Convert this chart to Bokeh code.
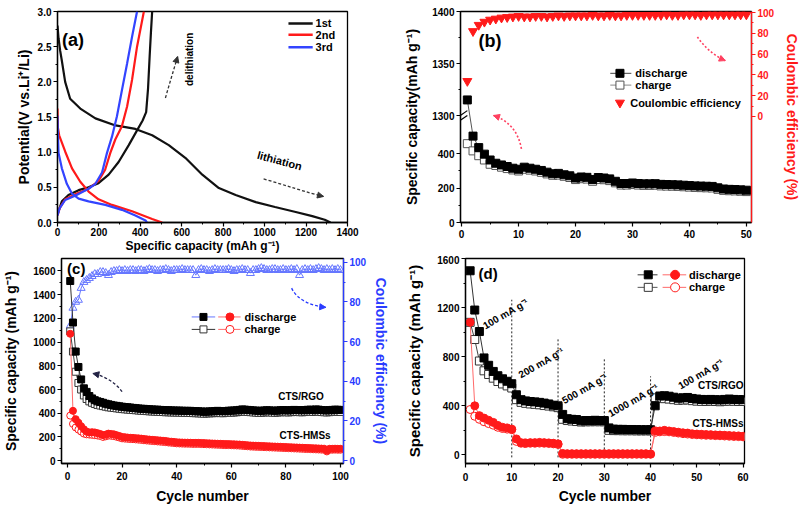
from bokeh.plotting import figure
from bokeh.layouts import column, row
from bokeh.models import Range1d, LinearAxis, FixedTicker, Label, Arrow, NormalHead
from bokeh.embed import file_html
from bokeh.resources import INLINE

FONT = "Liberation Sans"
RED = "#ff1a1a"
PINK = "#ff6a6a"
BLUE_A = "#3344ff"
BLUE_C = "#2a3cff"
BLUE_T = "#6677ff"

# ---------------- (a) charge/discharge profiles ----------------
a_legend = ["1st", "2nd", "3rd"]
a_colors = ["#111111", RED, BLUE_A]
d1_x = [0, 5, 13, 21, 37, 61, 110, 183, 280, 376, 457, 537, 617, 699, 779, 860, 957, 1050, 1150, 1230, 1290, 1318]
d1_y = [2.80, 2.62, 2.44, 2.30, 2.00, 1.76, 1.62, 1.48, 1.38, 1.33, 1.24, 1.10, 0.92, 0.68, 0.49, 0.39, 0.29, 0.22, 0.15, 0.09, 0.04, 0.0]
c1_x = [0, 5, 21, 53, 102, 150, 198, 247, 295, 344, 384, 411, 428, 437, 445, 451, 457]
c1_y = [0.12, 0.16, 0.30, 0.39, 0.46, 0.50, 0.56, 0.68, 0.86, 1.10, 1.31, 1.45, 1.57, 1.90, 2.37, 2.70, 3.0]
d2_x = [0, 2, 8, 37, 70, 110, 150, 198, 263, 360, 457, 505]
d2_y = [1.62, 1.35, 1.24, 1.01, 0.77, 0.58, 0.44, 0.33, 0.25, 0.16, 0.05, 0.0]
c2_x = [0, 10, 37, 85, 150, 198, 230, 255, 279, 311, 336, 360, 384, 417]
c2_y = [0.10, 0.20, 0.33, 0.40, 0.48, 0.59, 0.75, 0.99, 1.18, 1.37, 1.65, 2.03, 2.50, 3.0]
d3_x = [0, 2, 5, 21, 45, 70, 102, 150, 231, 311, 376, 425, 432]
d3_y = [1.52, 1.25, 0.99, 0.77, 0.55, 0.41, 0.34, 0.30, 0.25, 0.18, 0.10, 0.03, 0.0]
c3_x = [0, 10, 37, 85, 150, 183, 215, 239, 263, 287, 311, 336, 360, 384]
c3_y = [0.10, 0.20, 0.32, 0.38, 0.48, 0.55, 0.71, 0.99, 1.22, 1.51, 1.88, 2.26, 2.64, 3.0]

# ---------------- (b) cycling ----------------
b_cycles = list(range(1, 51))
b_discharge = [1315, 503, 436, 398, 364, 345, 335, 326, 316, 310, 322, 316, 310, 303, 293, 284, 286, 278, 272, 259,
               265, 263, 250, 262, 259, 254, 240, 227, 227, 230, 227, 225, 225, 226, 222, 221, 220, 219, 217, 215,
               213, 212, 211, 210, 202, 195, 193, 192, 190, 188]
b_charge = [459, 417, 389, 364, 339, 332, 322, 314, 306, 300, 310, 305, 300, 292, 283, 275, 276, 269, 262, 250,
            255, 253, 240, 251, 249, 244, 231, 218, 218, 221, 218, 216, 216, 217, 213, 212, 211, 210, 208, 206,
            204, 203, 202, 201, 193, 187, 185, 184, 182, 180]
b_ce = [34, 82, 88, 91, 93, 94, 95, 95.5, 96, 96.5, 96, 96, 96.5, 96.5, 96, 96.5, 97, 96.5, 97, 97,
        97, 97, 97.5, 97, 97, 97.5, 97, 97, 97.5, 97.5, 97.5, 97.5, 97.5, 97.5, 97.5, 98, 97.5, 97.5, 98, 98,
        98, 97.5, 98, 98, 98, 98, 98, 98, 98, 98]
b_ytick_values = [0, 200, 400, 1300, 1350, 1400]

# ---------------- (c) long cycling ----------------
c_cycles = list(range(1, 101))
c_rgo_dis = [1515, 1165, 920, 790, 685, 610, 580, 545, 525, 510, 500, 495, 488, 480, 475, 470, 465, 462, 458, 455,
             452, 450, 448, 445, 443, 440, 438, 437, 435, 433, 432, 430, 430, 428, 427, 425, 425, 424, 423, 422,
             422, 421, 420, 420, 420, 418, 417, 416, 415, 412, 414, 415, 416, 418, 420, 418, 417, 419, 421, 422,
             423, 425, 428, 432, 430, 428, 426, 424, 422, 420, 421, 423, 425, 424, 422, 421, 423, 425, 426, 425,
             424, 426, 428, 427, 426, 425, 427, 429, 430, 428, 432, 430, 427, 425, 424, 426, 428, 430, 429, 428]
c_rgo_cha = [1090, 920, 750, 655, 600, 550, 520, 500, 488, 478, 470, 465, 460, 455, 450, 447, 444, 441, 438, 435,
             433, 431, 429, 427, 425, 423, 421, 420, 418, 416, 415, 413, 412, 411, 410, 408, 408, 407, 406, 405,
             405, 404, 403, 403, 402, 401, 400, 399, 398, 396, 398, 399, 400, 401, 403, 401, 400, 402, 404, 405,
             406, 408, 411, 414, 413, 411, 409, 407, 405, 403, 404, 406, 408, 407, 405, 404, 406, 408, 409, 408,
             407, 409, 411, 410, 409, 408, 410, 412, 413, 411, 414, 413, 410, 408, 407, 409, 411, 413, 412, 411]
c_hms_dis = [1070, 420, 350, 320, 290, 265, 245, 238, 240, 238, 232, 225, 215, 220, 228, 225, 222, 215, 208, 200,
             198, 195, 193, 192, 190, 188, 186, 183, 180, 178, 176, 174, 172, 170, 168, 166, 162, 160, 158, 155,
             154, 153, 152, 152, 151, 150, 150, 150, 149, 148, 147, 146, 145, 144, 143, 142, 141, 140, 140, 139,
             138, 137, 136, 134, 132, 130, 128, 127, 126, 125, 124, 123, 122, 121, 120, 119, 118, 117, 116, 115,
             114, 113, 112, 111, 110, 109, 108, 107, 106, 105, 104, 103, 102, 101, 85, 100, 100, 101, 100, 100]
c_hms_cha = [380, 310, 280, 262, 245, 228, 222, 220, 218, 215, 212, 208, 200, 205, 212, 210, 207, 201, 195, 188,
             186, 184, 182, 181, 179, 177, 175, 172, 170, 168, 166, 164, 162, 160, 158, 156, 153, 151, 149, 146,
             145, 144, 143, 143, 142, 141, 141, 141, 140, 139, 138, 137, 136, 135, 134, 133, 132, 131, 131, 130,
             129, 128, 127, 125, 123, 121, 119, 118, 117, 116, 115, 114, 113, 112, 111, 110, 109, 108, 107, 106,
             105, 104, 103, 102, 101, 100, 99, 98, 97, 96, 95, 94, 93, 92, 78, 92, 92, 93, 92, 92]
c_ce = [68, 77, 80, 81, 87, 90, 91, 92, 93, 94, 94, 95, 95, 94.5, 93.5, 95, 95.5, 95.5, 96, 95.5,
        96, 95.5, 96, 96, 95.5, 96, 96, 95.5, 96, 96.5, 96, 96, 95.5, 96, 96, 96.5, 96, 95.5, 96, 96,
        96, 96.5, 96, 96, 96, 96, 93.5, 96, 96.5, 96, 96, 95.5, 96, 96.5, 96, 96, 96, 96, 96.5, 96,
        95.5, 96, 96, 96.5, 96, 96, 94.5, 96, 96, 96.5, 97, 96.5, 96, 96, 96.5, 96.5, 96, 96, 96.5, 96,
        96, 96.5, 96, 96.5, 93.5, 96, 96.5, 96, 96.5, 96, 96.5, 97, 96.5, 96, 96.5, 96, 96.5, 96, 96.5, 96]

# ---------------- (d) rate capability ----------------
d_cycles = list(range(1, 61))
d_rgo_dis = [1500, 1180, 1005, 790, 730, 680, 645, 620, 600, 580, 490, 450, 440, 435, 432, 428, 422, 415, 405, 400,
             330, 295, 290, 288, 278, 280, 280, 282, 280, 280, 220, 210, 208, 208, 207, 207, 206, 205, 205, 205,
             400, 480, 482, 478, 470, 462, 465, 468, 460, 455, 452, 450, 452, 450, 448, 452, 455, 452, 450, 450]
d_rgo_cha = [1080, 940, 765, 685, 655, 625, 598, 578, 562, 545, 450, 428, 420, 415, 412, 408, 402, 398, 392, 385,
             290, 280, 276, 272, 268, 270, 270, 271, 270, 270, 200, 198, 198, 197, 197, 197, 196, 196, 196, 196,
             465, 462, 458, 455, 450, 445, 447, 448, 442, 438, 436, 435, 437, 435, 433, 436, 438, 437, 435, 435]
d_hms_dis = [1080, 400, 320, 300, 282, 265, 240, 225, 220, 210, 130, 100, 98, 100, 100, 102, 100, 98, 95, 90,
             12, 10, 10, 10, 10, 10, 10, 10, 10, 10, 10, 10, 10, 10, 10, 10, 10, 10, 10, 8,
             195, 195, 200, 195, 190, 185, 180, 178, 172, 170, 168, 166, 165, 163, 162, 160, 158, 156, 155, 152]
d_hms_cha = [370, 315, 290, 270, 255, 242, 225, 215, 210, 205, 110, 95, 93, 95, 95, 96, 95, 93, 90, 85,
             5, 5, 5, 5, 5, 5, 5, 5, 5, 5, 5, 5, 5, 5, 5, 5, 5, 5, 5, 5,
             185, 188, 190, 188, 183, 178, 173, 170, 166, 164, 162, 160, 159, 157, 156, 154, 152, 150, 149, 147]
d_rate_x = [10, 20, 30, 40]
d_rate_top = [1264, 952, 784, 640]
d_rate_labels = ["100 mA g\u207b\u00b9", "200 mA g\u207b\u00b9", "500 mA g\u207b\u00b9", "1000 mA g\u207b\u00b9", "100 mA g\u207b\u00b9"]


def base_fig(w, h, xr, yr, left, right, top, bottom):
    p = figure(width=w, height=h, x_range=Range1d(*xr), y_range=Range1d(*yr),
               output_backend="svg", toolbar_location=None,
               min_border_left=left, min_border_right=right,
               min_border_top=top, min_border_bottom=bottom)
    p.xgrid.visible = False
    p.ygrid.visible = False
    p.outline_line_color = "black"
    p.outline_line_width = 1.3
    p.outline_line_alpha = 1.0
    return p


def style_axis(ax, ticks, minor, color="black", label=None, label_size="13px",
               tick_size="10px", label_standoff=4, overrides=None, tick_standoff=2):
    ax.ticker = FixedTicker(ticks=ticks, minor_ticks=minor)
    ax.axis_line_color = color
    ax.axis_line_width = 1.3
    ax.major_tick_line_color = color
    ax.minor_tick_line_color = color
    ax.major_tick_line_width = 1.2
    ax.minor_tick_line_width = 1.0
    ax.major_tick_in = 0
    ax.major_tick_out = 4
    ax.minor_tick_in = 0
    ax.minor_tick_out = 2
    ax.major_label_text_font = FONT
    ax.major_label_text_font_style = "bold"
    ax.major_label_text_font_size = tick_size
    ax.major_label_text_color = color
    ax.major_label_standoff = tick_standoff
    if overrides:
        ax.major_label_overrides = overrides
    if label:
        ax.axis_label = label
        ax.axis_label_text_font = FONT
        ax.axis_label_text_font_style = "bold"
        ax.axis_label_text_font_size = label_size
        ax.axis_label_text_color = color
        ax.axis_label_standoff = label_standoff


def lab(p, x, y, text, size, color="black", align="left", baseline="middle", angle=0.0,
        y_range_name="default"):
    p.add_layout(Label(x=x, y=y, text=text, text_font=FONT, text_font_size=f"{size}px",
                       text_font_style="bold", text_color=color, text_align=align,
                       text_baseline=baseline, angle=angle, y_range_name=y_range_name))


def dashed_arrow(p, pts, color, y_range_name="default", width=1.3, dash="3 2"):
    (x0, y0), (cx0, cy0), (cx1, cy1), (x1, y1) = pts
    p.bezier(x0=[x0], y0=[y0], x1=[x1], y1=[y1], cx0=[cx0], cy0=[cy0], cx1=[cx1], cy1=[cy1],
             line_color=color, line_dash=dash, line_width=width, y_range_name=y_range_name)
    p.add_layout(Arrow(end=NormalHead(size=6, fill_color=color, line_color=color),
                       x_start=cx1, y_start=cy1, x_end=x1, y_end=y1, line_alpha=0,
                       y_range_name=y_range_name))


# ======================= panel (a) =======================
pa = base_fig(400, 255, (0, 1400), (0, 3.0), 57, 53, 11, 32)
style_axis(pa.xaxis[0], list(range(0, 1401, 200)), list(range(100, 1400, 200)),
           label="Specific capacity (mAh g\u207b\u00b9)", label_size="12px", label_standoff=0,
           tick_standoff=1)
style_axis(pa.yaxis[0], [0, 0.5, 1.0, 1.5, 2.0, 2.5, 3.0], [0.25, 0.75, 1.25, 1.75, 2.25, 2.75],
           label="Potential(V vs.Li\u207a/Li)", label_size="14px", label_standoff=3,
           overrides={0: "0.0", 0.5: "0.5", 1: "1.0", 1.5: "1.5", 2: "2.0", 2.5: "2.5", 3: "3.0"})
curves = [(d1_x, d1_y, 0), (c1_x, c1_y, 0), (d2_x, d2_y, 1), (c2_x, c2_y, 1), (d3_x, d3_y, 2), (c3_x, c3_y, 2)]
for xs, ys, k in curves:
    pa.line(xs, ys, line_color=a_colors[k], line_width=2.2)
for k, name in enumerate(a_legend):
    yy = [2.83, 2.67, 2.49][k]
    pa.line([1115, 1232], [yy, yy], line_color=a_colors[k], line_width=2.5)
    lab(pa, 1246, yy, name, 11)
lab(pa, 75, 2.6, "(a)", 18, align="center")
lab(pa, 637, 2.32, "delithiation", 10, align="center", angle=1.5708)
dashed_arrow(pa, [(521, 1.77), (540, 1.97), (560, 2.16), (580, 2.36)], "#333333")
lab(pa, 1072, 0.88, "lithiation", 11, align="center", angle=-0.26)
dashed_arrow(pa, [(995, 0.62), (1100, 0.53), (1200, 0.43), (1284, 0.37)], "#333333")

# ======================= panel (b) =======================
def brk(v):
    return v * 0.175 if v < 800 else 109 + (v - 1300) * 1.06

pb = base_fig(403, 255, (-0.2, 50.9), (0, 215), 60, 48, 7, 33)
pb.extra_y_ranges = {"ce": Range1d(-102, 101)}
b_ticks = [brk(v) for v in b_ytick_values]
style_axis(pb.xaxis[0], [0, 10, 20, 30, 40, 50], [5, 15, 25, 35, 45], tick_standoff=3)
style_axis(pb.yaxis[0], b_ticks, [brk(100), brk(300), brk(1325), brk(1375)],
           label="Specific capacity(mAh g\u207b\u00b9)", label_size="14px", label_standoff=9,
           overrides={t: str(v) for t, v in zip(b_ticks, b_ytick_values)})
rax = LinearAxis(y_range_name="ce")
style_axis(rax, [0, 20, 40, 60, 80, 100], [10, 30, 50, 70, 90], color=RED,
           label="Coulombic efficiency (%)", label_size="14px", label_standoff=7)
pb.add_layout(rax, "right")
bd = [brk(v) for v in b_discharge]
bc = [brk(v) for v in b_charge]
pb.line(b_cycles, bc, line_color="#777777", line_width=1)
pb.scatter(b_cycles, bc, marker="square", size=8, fill_color="white", line_color="#555555", line_width=1)
pb.line(b_cycles, bd, line_color="#555555", line_width=1)
pb.scatter(b_cycles, bd, marker="square", size=8, fill_color="black", line_color="black")
pb.scatter(b_cycles, b_ce, marker="inverted_triangle", size=9, fill_color=RED, line_color=RED, y_range_name="ce")
# break marks
pb.segment(x0=[-1.0, -1.0], y0=[101, 106], x1=[1.0, 1.0], y1=[109, 114], line_color="black", line_width=1.2)
# legend
pb.line([26.1, 29.8], [152, 152], line_color="#444444", line_width=1)
pb.scatter([27.8], [152], marker="square", size=8, fill_color="black", line_color="black")
lab(pb, 30.5, 152, "discharge", 11)
pb.line([26.1, 29.8], [140, 140], line_color="#888888", line_width=1)
pb.scatter([27.8], [140], marker="square", size=8, fill_color="white", line_color="#555555")
lab(pb, 30.5, 140, "charge", 11)
pb.scatter([27.8], [122], marker="inverted_triangle", size=9, fill_color=RED, line_color=RED)
lab(pb, 29.6, 122, "Coulombic efficiency", 11)
lab(pb, 5.0, 185, "(b)", 18, align="center")
dashed_arrow(pb, [(10.5, 75), (10.0, 92), (8.3, 104), (5.6, 109)], "#ff4060", width=1.6, dash="2 2")
dashed_arrow(pb, [(41.4, 189), (42.5, 180), (44.2, 170), (46.3, 165)], "#ff4060", width=1.6, dash="2 2")

# ======================= panel (c) =======================
pc = base_fig(400, 254, (-2.2, 101.1), (-24, 1705), 55, 57, 3, 37)
pc.extra_y_ranges = {"ce": Range1d(-1.45, 101.9)}
style_axis(pc.xaxis[0], [0, 20, 40, 60, 80, 100], [10, 30, 50, 70, 90],
           label="Cycle number", label_size="14px", label_standoff=5, tick_standoff=4)
style_axis(pc.yaxis[0], list(range(0, 1601, 200)), list(range(100, 1601, 200)),
           label="Specific capacity (mAh g\u207b\u00b9)", label_size="14px", label_standoff=11)
rc = LinearAxis(y_range_name="ce")
style_axis(rc, [0, 20, 40, 60, 80, 100], [10, 30, 50, 70, 90], color=BLUE_C,
           label="Coulombic efficiency (%)", label_size="14px", label_standoff=4)
pc.add_layout(rc, "right")
pc.line(c_cycles, c_ce, line_color=BLUE_T, line_width=1, y_range_name="ce")
pc.scatter(c_cycles, c_ce, marker="triangle", size=8, fill_color="white", fill_alpha=0.0,
           line_color=BLUE_T, line_width=1, y_range_name="ce")
pc.line(c_cycles, c_rgo_cha, line_color="#444444", line_width=1)
pc.scatter(c_cycles, c_rgo_cha, marker="square", size=7, fill_color="white", line_color="#333333")
pc.line(c_cycles, c_rgo_dis, line_color="#333333", line_width=1)
pc.scatter(c_cycles, c_rgo_dis, marker="square", size=7, fill_color="black", line_color="black")
pc.line(c_cycles, c_hms_cha, line_color=PINK, line_width=1)
pc.scatter(c_cycles, c_hms_cha, marker="circle", size=7, fill_color="white", line_color=RED)
pc.line(c_cycles, c_hms_dis, line_color=PINK, line_width=1)
pc.scatter(c_cycles, c_hms_dis, marker="circle", size=7, fill_color=RED, line_color=RED)
# legend
pc.line([45.5, 54.1], [1212, 1212], line_color=BLUE_T, line_width=1)
pc.scatter([49.8], [1212], marker="square", size=7, fill_color="black", line_color="black")
pc.line([55.2, 63.4], [1212, 1212], line_color=PINK, line_width=1)
pc.scatter([59.5], [1212], marker="circle", size=8, fill_color=RED, line_color=RED)
lab(pc, 64.8, 1212, "discharge", 11)
pc.line([45.5, 54.1], [1107, 1107], line_color="#333333", line_width=1)
pc.scatter([49.8], [1107], marker="square", size=7, fill_color="white", line_color="#333333")
pc.line([55.2, 63.4], [1107, 1107], line_color=PINK, line_width=1)
pc.scatter([59.5], [1107], marker="circle", size=8, fill_color="white", line_color=RED)
lab(pc, 64.8, 1107, "charge", 11)
lab(pc, 93.9, 541, "CTS/RGO", 10, align="right")
lab(pc, 96.4, 210, "CTS-HMSs", 10, align="right")
lab(pc, 3.2, 1624, "(c)", 15, align="center")
dashed_arrow(pc, [(20.0, 582), (17.5, 660), (13.5, 715), (9.3, 735)], "#222244")
dashed_arrow(pc, [(82.1, 1455), (84.0, 1360), (89.0, 1305), (94.6, 1293)], BLUE_C)

# ======================= panel (d) =======================
pd = base_fig(403, 254, (0, 60.3), (-70, 1600), 65, 59, 0, 46)
style_axis(pd.xaxis[0], [0, 10, 20, 30, 40, 50, 60], [5, 15, 25, 35, 45, 55],
           label="Cycle number", label_size="14px", label_standoff=4, tick_standoff=5)
style_axis(pd.yaxis[0], [0, 400, 800, 1200, 1600], [200, 600, 1000, 1400],
           label="Specific capacity (mAh g\u207b\u00b9)", label_size="15px", label_standoff=11)
pd.segment(x0=d_rate_x, y0=[-20] * 4, x1=d_rate_x, y1=d_rate_top, line_color="#222222",
           line_dash="2 2", line_width=1)
pd.line(d_cycles, d_rgo_cha, line_color="#444444", line_width=1)
pd.scatter(d_cycles, d_rgo_cha, marker="square", size=8, fill_color="white", line_color="#333333")
pd.line(d_cycles, d_rgo_dis, line_color="#333333", line_width=1)
pd.scatter(d_cycles, d_rgo_dis, marker="square", size=8, fill_color="black", line_color="black")
pd.line(d_cycles, d_hms_cha, line_color=PINK, line_width=1)
pd.scatter(d_cycles, d_hms_cha, marker="circle", size=8, fill_color="white", line_color=RED)
pd.line(d_cycles, d_hms_dis, line_color=PINK, line_width=1)
pd.scatter(d_cycles, d_hms_dis, marker="circle", size=8, fill_color=RED, line_color=RED)
# legend
pd.line([37.2, 41.5], [1467, 1467], line_color="#333333", line_width=1)
pd.scatter([39.5], [1467], marker="square", size=8, fill_color="black", line_color="black")
pd.line([42.6, 47.7], [1467, 1467], line_color=PINK, line_width=1)
pd.scatter([45.3], [1467], marker="circle", size=9, fill_color=RED, line_color=RED)
lab(pd, 48.3, 1467, "discharge", 11)
pd.line([37.2, 41.5], [1365, 1365], line_color="#555555", line_width=1)
pd.scatter([39.5], [1365], marker="square", size=8, fill_color="white", line_color="#333333")
pd.line([42.6, 47.7], [1365, 1365], line_color=PINK, line_width=1)
pd.scatter([45.3], [1365], marker="circle", size=9, fill_color="white", line_color=RED)
lab(pd, 48.3, 1365, "charge", 11)
lab(pd, 4.9, 1480, "(d)", 15, align="center")
rate_pos = [(8.7, 1150), (16.4, 750), (25.8, 540), (36.3, 445), (50.9, 660)]
for (x, y), t in zip(rate_pos, d_rate_labels):
    lab(pd, x, y, t, 10, align="center", angle=0.52)
lab(pd, 60.1, 565, "CTS/RGO", 10, align="right")
lab(pd, 60.1, 252, "CTS-HMSs", 10, align="right")

layout = column(row(pa, pb, spacing=0), row(pc, pd, spacing=0), spacing=0)
open("out.html", "w").write(file_html(layout, INLINE))
